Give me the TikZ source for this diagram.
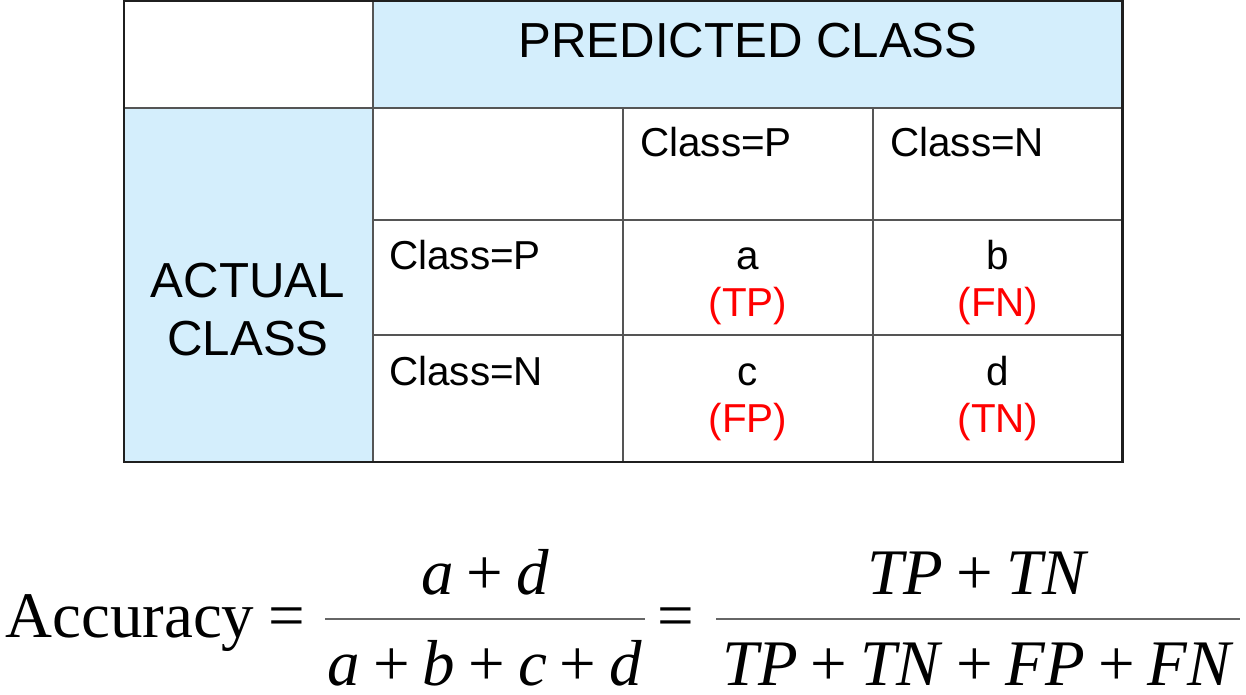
\documentclass[tikz,border=0pt]{standalone}
\usepackage{fontspec}
\setmainfont{Liberation Serif}
\setsansfont{Liberation Sans}
\definecolor{cellblue}{RGB}{212,238,252}
\definecolor{gridgray}{RGB}{85,85,85}
\tikzstyle{bluecell}=[fill=cellblue]
\tikzstyle{gridline}=[draw=gridgray,line width=1.6pt]
\tikzstyle{border}=[draw=black!88,line width=1.7pt]
\tikzstyle{bigtxt}=[font=\sffamily\fontsize{28}{33}\selectfont,inner sep=0pt]
\tikzstyle{celltxt}=[font=\sffamily\fontsize{23}{27}\selectfont,inner sep=0pt]
\tikzstyle{redtxt}=[celltxt,text=red]
\tikzstyle{eqtxt}=[font=\fontsize{37}{44}\selectfont,inner sep=0pt,anchor=base]
\tikzstyle{fracbar}=[draw=black!60,line width=1.2pt]
\newcommand{\pxunit}{0.02cm}
\newcommand{\iv}[1]{\textit{#1}}
\newcommand{\pl}{\hspace{0.2em}+\hspace{0.2em}}

\begin{document}
\begin{tikzpicture}[x=\pxunit,y=-\pxunit]
    \useasboundingbox (0,0) rectangle (1246,695);
%   shaded header cells
    \fill[bluecell] (373,1) rectangle (1122,108);
    \fill[bluecell] (124,108) rectangle (373,462);
%   inner grid
    \draw[gridline] (124,108) -- (1122,108);
    \draw[gridline] (373,220) -- (1122,220);
    \draw[gridline] (373,335) -- (1122,335);
    \draw[gridline] (373,1) -- (373,462);
    \draw[gridline] (623,108) -- (623,462);
    \draw[gridline] (873,108) -- (873,462);
    \draw[border] (124,1) rectangle (1122,462);
%   headers
    \node[bigtxt,anchor=base] (pred) at (748,58) {PREDICTED CLASS};
    \node[bigtxt,align=center] (act) at (248,310) {ACTUAL\\CLASS};
    \node[celltxt,anchor=base west] (colP) at (640,157) {Class=P};
    \node[celltxt,anchor=base west] (colN) at (890,157) {Class=N};
    \node[celltxt,anchor=base west] (rowP) at (389,270) {Class=P};
    \node[celltxt,anchor=base west] (rowN) at (389,385) {Class=N};
%   counts
    \node[celltxt,anchor=base] (a) at (748,270) {a};
    \node[celltxt,anchor=base] (b) at (998,270) {b};
    \node[celltxt,anchor=base] (c) at (748,385) {c};
    \node[celltxt,anchor=base] (d) at (998,385) {d};
    \node[redtxt,anchor=base] (tp) at (748,317) {(TP)};
    \node[redtxt,anchor=base] (fn) at (998,317) {(FN)};
    \node[redtxt,anchor=base] (fp) at (748,432) {(FP)};
    \node[redtxt,anchor=base] (tn) at (998,432) {(TN)};
%   accuracy formula
    \node[eqtxt,anchor=base west] (acc) at (5,637) {Accuracy};
    \node[eqtxt] (eq1) at (287,637) {=};
    \coordinate (bar1l) at (325,619);
    \coordinate (bar1r) at (645,619);
    \draw[fracbar] (bar1l) -- (bar1r);
    \node[eqtxt] (num1) at (485,594) {\iv{a}\pl\iv{d}};
    \node[eqtxt] (den1) at (485,685) {\iv{a}\pl\iv{b}\pl\iv{c}\pl\iv{d}};
    \node[eqtxt] (eq2) at (676,637) {=};
    \coordinate (bar2l) at (716,619);
    \coordinate (bar2r) at (1240,619);
    \draw[fracbar] (bar2l) -- (bar2r);
    \node[eqtxt] (num2) at (978,594) {\iv{TP}\pl\iv{TN}};
    \node[eqtxt] (den2) at (978,685) {\iv{TP}\pl\iv{TN}\pl\iv{FP}\pl\iv{FN}};
\end{tikzpicture}
\end{document}
